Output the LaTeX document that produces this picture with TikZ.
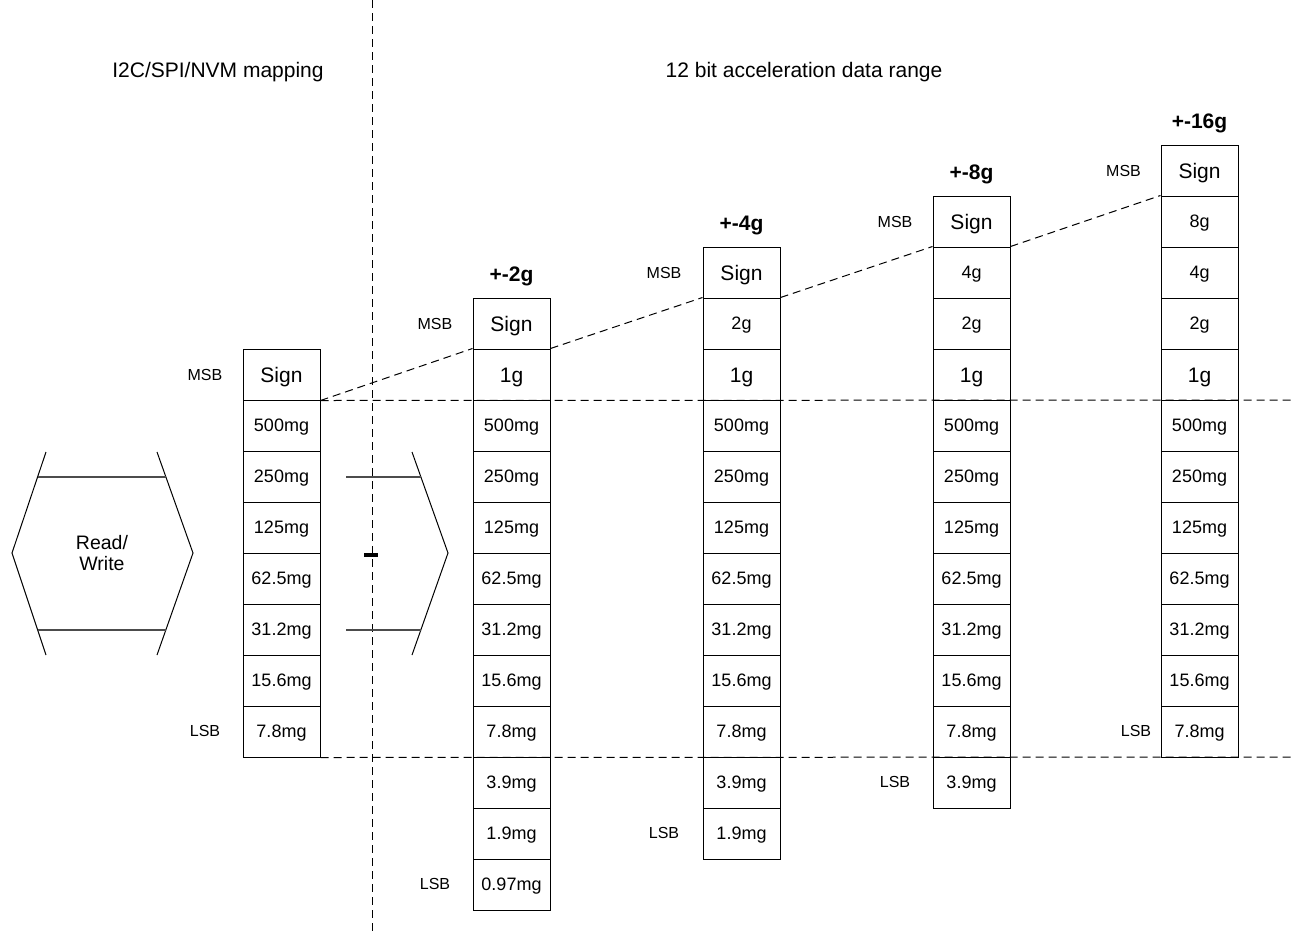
\documentclass[tikz,border=0pt]{standalone}
\usepackage{fontspec}
\setmainfont{Liberation Sans}
\begin{document}
\begin{tikzpicture}[x=1pt,y=-1pt,
  cellbase/.style={draw, line width=1pt, minimum width=77pt, minimum height=51pt, inner sep=0pt, text depth=0pt},
  cell/.style={cellbase, font=\fontsize{18}{20}\selectfont, text height=12.9pt},
  bcell/.style={cellbase, font=\fontsize{21}{24}\selectfont, text height=15pt},
  lbl/.style={inner sep=0pt, font=\fontsize{16}{18}\selectfont},
  ttl/.style={inner sep=0pt, anchor=base, font=\fontsize{21}{24}\selectfont},
  rng/.style={inner sep=0pt, anchor=base, font=\bfseries\fontsize{21}{24}\selectfont},
  dsh/.style={dash pattern=on 8pt off 5pt, line width=1pt},
  hexl/.style={line width=1pt},
  grayl/.style={line width=1.2pt, draw=black!70}
]
\useasboundingbox (0,0) rectangle (1295,932);

% columns
\foreach \s/\t [count=\i from 0] in {bcell/Sign,cell/500mg,cell/250mg,cell/125mg,cell/62.5mg,cell/31.2mg,cell/15.6mg,cell/7.8mg}
  \node[\s] (L-\i) at (281.5,{374.5+51*\i}) {\t};
\foreach \s/\t [count=\i from 0] in {bcell/Sign,bcell/1g,cell/500mg,cell/250mg,cell/125mg,cell/62.5mg,cell/31.2mg,cell/15.6mg,cell/7.8mg,cell/3.9mg,cell/1.9mg,cell/0.97mg}
  \node[\s] (A-\i) at (511.5,{323.5+51*\i}) {\t};
\foreach \s/\t [count=\i from 0] in {bcell/Sign,cell/2g,bcell/1g,cell/500mg,cell/250mg,cell/125mg,cell/62.5mg,cell/31.2mg,cell/15.6mg,cell/7.8mg,cell/3.9mg,cell/1.9mg}
  \node[\s] (B-\i) at (741.5,{272.5+51*\i}) {\t};
\foreach \s/\t [count=\i from 0] in {bcell/Sign,cell/4g,cell/2g,bcell/1g,cell/500mg,cell/250mg,cell/125mg,cell/62.5mg,cell/31.2mg,cell/15.6mg,cell/7.8mg,cell/3.9mg}
  \node[\s] (C-\i) at (971.5,{221.5+51*\i}) {\t};
\foreach \s/\t [count=\i from 0] in {bcell/Sign,cell/8g,cell/4g,cell/2g,bcell/1g,cell/500mg,cell/250mg,cell/125mg,cell/62.5mg,cell/31.2mg,cell/15.6mg,cell/7.8mg}
  \node[\s] (D-\i) at (1199.5,{170.5+51*\i}) {\t};

% titles
\node[ttl] (t1) at (218,77) {I2C/SPI/NVM mapping};
\node[ttl] (t2) at (804,77) {12 bit acceleration data range};
\node[rng] (r2) at (511.5,281) {+-2g};
\node[rng] (r4) at (741.5,230) {+-4g};
\node[rng] (r8) at (971.5,179) {+-8g};
\node[rng] (r16) at (1199.5,128) {+-16g};

% MSB / LSB
\node[lbl] (m0) at (205,375) {MSB};
\node[lbl] (m1) at (435,324) {MSB};
\node[lbl] (m2) at (664,273) {MSB};
\node[lbl] (m3) at (895,222) {MSB};
\node[lbl] (m4) at (1123.5,171) {MSB};
\node[lbl] (l0) at (205,731) {LSB};
\node[lbl] (l1) at (435,884) {LSB};
\node[lbl] (l2) at (664,833) {LSB};
\node[lbl] (l3) at (895,782) {LSB};
\node[lbl] (l4) at (1136,731) {LSB};

% dashed lines
\coordinate (v1) at (372,0);
\coordinate (v2) at (372,932);
\coordinate (h1) at (1295,400);
\coordinate (h2) at (1295,757);
\draw[dsh] (v1) -- (v2);
\draw[dsh] (L-0.south east) -- (h1);
\draw[dsh] (L-7.south east) -- (h2);
\draw[dsh] (L-0.south east) -- (A-1.north west);
\draw[dsh] (A-1.north east) -- (B-1.north west);
\draw[dsh] (B-1.north east) -- (C-1.north west);
\draw[dsh] (C-1.north east) -- (D-1.north west);

% Read/Write shape
\draw[hexl] (46,452) -- (12,553) -- (46,655);
\draw[hexl] (157,452) -- (193,553) -- (157,655);
\draw[grayl] (37.6,477) -- (165.9,477);
\draw[grayl] (37.6,630) -- (165.9,630);
\node[inner sep=0pt, align=center, font=\fontsize{19.5}{21}\selectfont] (rw) at (102,553) {Read/\\Write};

% right partial shape
\draw[hexl] (412,452) -- (448,553) -- (412,655);
\draw[grayl] (346,477) -- (420.9,477);
\draw[grayl] (346,630) -- (420.9,630);
\fill (364,553) rectangle (378,557);
\end{tikzpicture}
\end{document}
